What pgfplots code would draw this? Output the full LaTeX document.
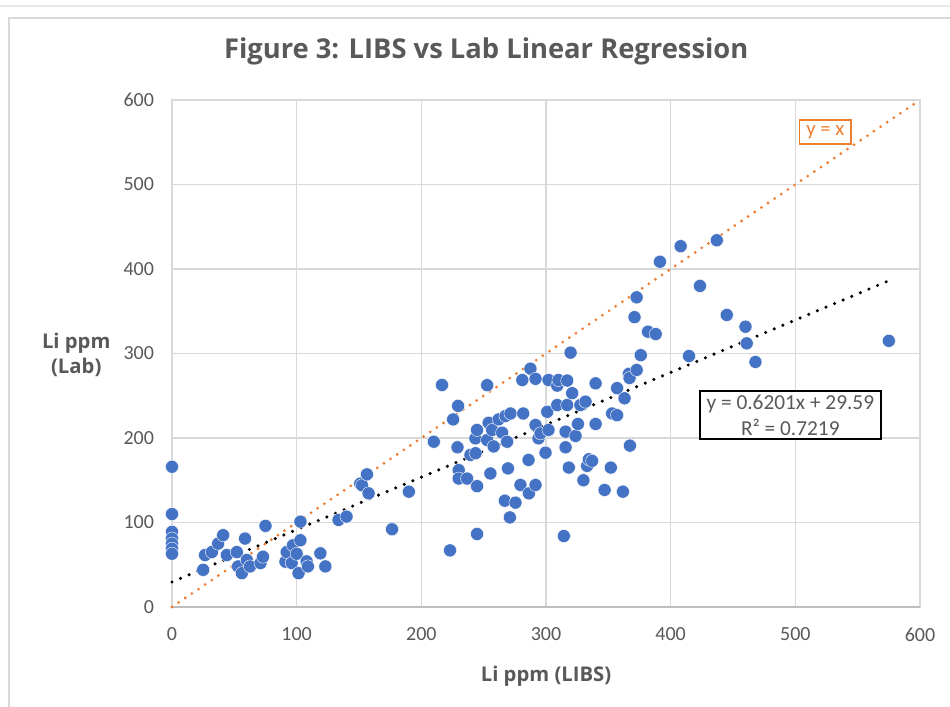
\documentclass[border=0pt]{standalone}
\usepackage{fontspec}
\setmainfont{Carlito}
\newfontfamily\titlefont{Open Sans}
\usepackage{pgfplots}
\pgfplotsset{compat=1.18}
\definecolor{mblue}{HTML}{4472C4}
\definecolor{morange}{HTML}{ED7D31}
\definecolor{tgray}{HTML}{595959}
\definecolor{ggray}{HTML}{D9D9D9}
\definecolor{agray}{HTML}{BFBFBF}
\begin{document}
\begin{tikzpicture}
\fill[white] (0,0) rectangle (712.5pt,530.25pt);
\useasboundingbox (0,0) rectangle (712.5pt,530.25pt);
\draw[ggray, line width=1pt] (6.75pt,0) -- (6.75pt,516.75pt) -- (712.5pt,516.75pt);
\draw[ggray!60, line width=1pt] (0,525.75pt) -- (712.5pt,525.75pt);
\begin{axis}[
 at={(129pt,75pt)}, anchor=south west, scale only axis,
 width=561pt, height=380.25pt,
 xmin=0, xmax=600, ymin=0, ymax=600,
 xtick={0,100,...,600}, ytick={0,100,...,600},
 grid=major, major grid style={ggray, line width=1.2pt},
 axis line style={ggray, line width=1.2pt},
 tick style={draw=none},
 ticklabel style={font=\fontsize{15}{18}\selectfont, text=tgray},
 /pgf/number format/assume math mode=true,
 xticklabel style={yshift=-12pt},
 yticklabel style={xshift=-10pt},
 clip=false,
]
\draw[agray, line width=1.2pt] (axis cs:0,0) -- (axis cs:600,0);
\addplot[only marks, mark=*, mark size=4.9pt, mark options={fill=mblue, draw=white, line width=0.3pt}] table {
x y
0 166
0 110
0 89
0 81
0 75
0 69
0 63
25 44
26.5 61.5
32 65
37 75
41 85
44 61.5
52 65
53 48
56 40
58.6 81
60 55.6
62.6 48
71 52
73 59.5
75 96
91 53.6
92 65
96 52
97 73
100 63
101.5 40
103 101
103 79
108 54
109 48
119 63.5
123 48
133.6 103
140 107
151 146
152.4 144
156.4 157
157.7 134.5
176.5 92
190 136.5
210 195.6
216.6 262.7
223 67
225.5 222
229.5 238
229 189
230 162
230 152
236.7 152
239.4 180
243.5 182
244.7 143
244.7 86.4
243.4 199.6
244.7 209.5
252.8 262.5
252.8 197.6
254 218
255.4 158
256.8 209.5
258 190
262 222
264.8 206.3
267.5 226
267 125.8
268.8 195.6
269.5 164
271 106
271.5 229
275.5 123.5
279.5 144.4
281.7 229
281 268.6
286 174
286.3 134.5
287.5 282
291.6 144.4
291.6 270
291.6 215.4
294 199.6
295.6 205.5
299.6 182.6
301 231
302 268.6
302 209.5
309 262
309 239
310 268.6
314.3 84
315.7 189
315.7 207.5
317 268
317 239
318.3 165
319.7 301
321 253
323.7 202.4
325.6 216.6
327.6 239
330 150
331.7 243
333 167
334.4 174.8
337 173
339.8 264.7
339.8 216.6
347 138.5
352 165
353 229
357 227
357 259
361.7 136.5
363 247
366.5 276
367 271
367.3 191
371 343
372.7 366.5
372.7 280.5
376 298
381.8 325.8
388 323
391.4 408.6
408 427
414.7 297
423.5 380
437 434
445 345.6
460 331.7
461 312
468 290
575 315
};
\addplot[morange, line width=2.3pt, line cap=round, dash pattern=on 0pt off 6pt] coordinates {(0,0) (600,600)};
\addplot[black, line width=2.6pt, line cap=round, dash pattern=on 0pt off 7pt] coordinates {(0,29.59) (575,386.15)};
\node[draw=morange, line width=1.2pt, text=morange, fill=white, font=\fontsize{15.5}{18}\selectfont, inner xsep=5pt, inner ysep=4pt] at (axis cs:524,562) {y = x};
\node[draw=black, line width=1.5pt, fill=white, text=tgray, align=center, font=\fontsize{16}{19.5}\selectfont, inner xsep=5pt, inner ysep=3pt] at (axis cs:496,227) {y = 0.6201x + 29.59\\R² = 0.7219};
\node[font=\titlefont\bfseries\fontsize{20.5}{24}\selectfont, text=tgray] at (rel axis cs:0.42,1.095) {Figure 3: LIBS vs Lab Linear Regression};
\node[font=\titlefont\bfseries\fontsize{15.2}{18}\selectfont, text=tgray] at (rel axis cs:0.5,-0.137) {Li ppm (LIBS)};
\node[font=\titlefont\bfseries\fontsize{15.2}{19}\selectfont, text=tgray, align=center] at (rel axis cs:-0.128,0.497) {Li ppm\\(Lab)};
\end{axis}
\end{tikzpicture}
\end{document}
